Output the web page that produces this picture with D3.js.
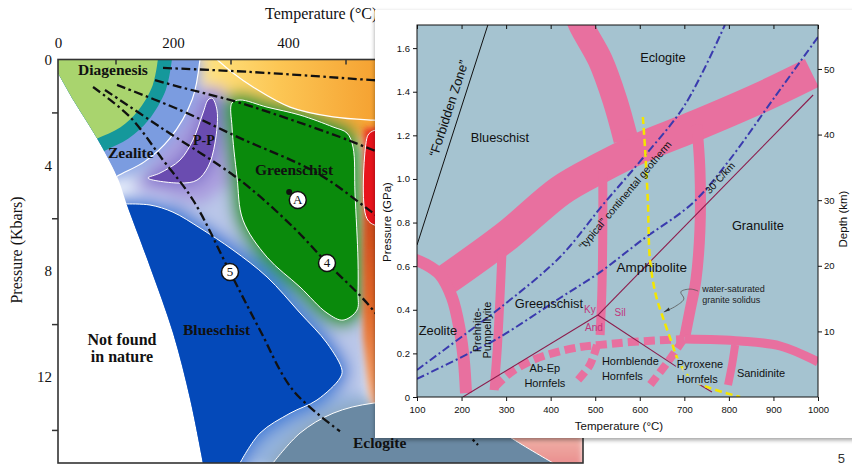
<!DOCTYPE html>
<html>
<head>
<meta charset="utf-8">
<script src="https://cdn.jsdelivr.net/npm/d3@7"></script>
<style>
  body { margin: 0; background: #fff; }
  svg { display: block; }
</style>
</head>
<body>
<svg id="chart" width="852" height="468"></svg>
<script>
// ---------------- Left diagram: facies fields, T (°C) vs P (kbar) ----------------
const tempLabelsL = [0, 200, 400];
const tempMinorL = [100, 300, 500, 700, 900];
const presLabelsL = [0, 4, 8, 12];
const presMinorL = [2, 6, 10, 14];

// lower-temperature limit of natural P-T conditions
const notFoundEdge = [[0,0.51],[29,1.62],[68,2.99],[103,4.44],[120,5.50],[160,7.84],[200,10.34],[230,12.87],[252,15.25]];
// concentric low-grade boundaries
const diagenesisEdge = [[173.7,0],[164.7,0.97],[138.1,1.97],[108.7,2.56],[68.2,2.99],[40,3.3]];
const zeoliteInner = [[198.1,0],[187.5,1.15],[156.7,2.31],[122.6,2.99],[81.6,3.45],[50,3.9]];
const zeoliteOuter = [[246.8,0],[233.4,1.51],[194.1,2.99],[150.6,3.86],[101.9,4.42],[70,4.9]];
const hotEdge = [[276.5,0],[304.3,0.51],[339.1,1.04],[403.5,1.80],[478.3,2.17],[547.8,2.29],[629.6,2.33]];
const ppField = [[267.8,1.46],[276.5,1.91],[273,3.16],[260.9,4.06],[241.7,4.56],[212.2,4.67],[156.5,4.48],[177.4,4.29],[212.2,3.80],[234.8,3.04],[252.2,2.02],[260.9,1.53]];
const greenschistField = [[302.6,1.64],[316.5,1.53],[363.5,1.80],[420.9,2.10],[478.3,2.55],[502.6,2.78],[513,3.31],[516.5,5.05],[521.7,7.58],[521.7,8.83],[520,9.47],[495.7,9.85],[467.8,9.58],[420.9,8.60],[363.5,7.47],[321.7,6.07],[311.3,4.44],[302.6,2.55]];
const blueschistEdge = [[120,5.46],[160,5.50],[200,5.77],[247,6.37],[304.3,7.20],[363.5,8.22],[420.9,9.58],[467.8,10.72],[493.9,11.74],[490.4,12.04],[450.4,12.87],[403.5,13.37],[351.3,14.12],[316.5,15.25]];
const eclogiteEdge = [[373.9,15.25],[420.9,14.12],[478.3,13.37],[547.8,12.99],[647,12.95],[734,13.44],[786,14.27],[861,15.25]];
const redField = [[536,3.1],[541,2.8],[556,2.65],[640,2.7],[640,6.4],[556,6.3],[537,6.0]];
const hotStrip = [[532,2.6],[913,2.6],[913,15.5],[575,15.5],[540,12.6],[530,10.5],[529,7.5]];

// geotherms (dash-dot)
const geothermA = [[182.6,0.32],[333.9,0.47],[547.8,0.78],[700,1.0]];
const geothermB = [[168.7,0.78],[212.2,1.04],[316.5,1.64],[490.4,2.93],[547.8,3.42],[620,4.0]];
const geothermC = [[102.6,0.96],[212.2,1.91],[316.5,2.97],[450.4,4.29],[547.8,5.80],[620,7.0]];
const geotherm4 = [[81.7,1.15],[177.4,2.55],[316.5,4.56],[408.7,6.33],[467.8,7.69],[547.8,9.47],[629.6,12.12],[730.4,14.57]];
const geotherm5 = [[60.9,1.04],[125.2,2.17],[182.6,3.80],[234.8,5.31],[299.1,8.03],[351.3,10.23],[408.7,12.50],[490.4,14.05]];

const markersL = [['A',417,5.31],['4',467.8,7.69],['5',299.1,8.03]];
const dotA = [402,5.01];
const faciesL = [['Diagenesis',34.8,0.59],['Zealite',87,3.72],['P-P',234.8,3.23],['Greenschist',342.6,4.37],['Blueschist',217.4,10.42],['Eclogite',513,14.7]];
const notFoundText = ['Not found','in nature'];
const notFoundAt = [111.3,10.79];

// ---------------- Right diagram: T (°C) vs P (GPa) ----------------
const tempTicksR = [100,200,300,400,500,600,700,800,900,1000];
const presTicksR = [0,0.2,0.4,0.6,0.8,1.0,1.2,1.4,1.6];
const depthTicksR = [10,20,30,40,50];

const forbiddenLine = [[100,0.697],[259,1.706]];
const highPBand = [[165,0.537],[304,0.743],[421,0.945],[511,1.050],[607,1.147],[713,1.234],[870,1.372],[986,1.486]];
const eclogiteBand = [[455,1.775],[468,1.706],[511,1.546],[544,1.362],[569,1.179]];
const granuliteBand = [[728,1.248],[735,1.041],[735,0.766],[726,0.537],[713,0.399],[701,0.275]];
const amphiboliteBand = [[517,1.032],[517,0.766],[515,0.491],[511,0.284]];
const prehniteBand = [[291,0.674],[286,0.445],[280,0.216],[273,0.032]];
const zeoliteBand = [[84,0.638],[118,0.610],[152,0.560],[179,0.454],[196,0.307],[205,0.170],[210,0.018]];
const sanidiniteEdge = [[701,0.266],[825,0.257],[915,0.234],[1000,0.161]];
const sanidiniteBand = [[814,0.239],[807,0.147],[798,0.055]];
const hornfelsDash = [[275,0.046],[309,0.110],[360,0.170],[414,0.206],[466,0.229],[511,0.239],[578,0.252],[701,0.266]];
const hornfelsDashA = [[504,0.239],[488,0.147],[455,0.064]];
const hornfelsDashB = [[697,0.261],[663,0.161],[623,0.055]];
const graniteSolidus = [[607,1.284],[612,1.133],[618,0.904],[623,0.628],[636,0.468],[650,0.376],[672,0.248],[686,0.170],[713,0.087],[746,0.050],[825,0.0]];
const continentalGeotherm = [[100,0.124],[212,0.294],[286,0.408],[421,0.642],[517,0.881],[607,1.096],[701,1.339],[791,1.706]];
const warmGeotherm = [[100,0.083],[196,0.179],[286,0.275],[421,0.454],[511,0.573],[605,0.720],[719,0.890],[798,1.078],[903,1.376],[1000,1.651]];
const andKy = [[203,0],[506,0.376]];
const kySil = [[506,0.376],[989,1.385]];
const andSil = [[506,0.376],[683,0.138]];
const solidusTail = [[728,0.064],[762,0.023]];
const solidusLeader = [[654,0.390],[681,0.417],[699,0.450],[692,0.482],[713,0.495],[731,0.486]];

const faciesR = [['Eclogite',652,1.537],['Blueschist',286,1.170],['Granulite',865,0.766],['Amphibolite',627,0.573],['Greenschist',396,0.408],['Zeolite',147,0.284]];
const polymorphsR = [['Ky',488,0.385],['Sil',556,0.372],['And',497,0.303]];

const fSans = "'Liberation Sans', Arial, sans-serif";
const fSerif = "'Liberation Serif', 'Times New Roman', serif";

const svg = d3.select('#chart');
const defs = svg.append('defs');

// ---------- scales ----------
const xL = d3.scaleLinear().domain([0, 913]).range([58, 583]);
const yL = d3.scaleLinear().domain([0, 15.25]).range([59.5, 463]);
const xR = d3.scaleLinear().domain([100, 1000]).range([417, 818]);
const yR = d3.scaleLinear().domain([0, 1.706]).range([397, 25]);
const dR = d3.scaleLinear().domain([0, 56.7]).range([397, 25]);

const smoothL = d3.line().x(d => xL(d[0])).y(d => yL(d[1])).curve(d3.curveCatmullRom.alpha(0.5));
const closedL = d3.line().x(d => xL(d[0])).y(d => yL(d[1])).curve(d3.curveCatmullRomClosed.alpha(0.5));
const straightL = d3.line().x(d => xL(d[0])).y(d => yL(d[1]));
function regionL(edge, corners) {
  let p = smoothL(edge);
  corners.forEach(c => { p += `L${xL(c[0])},${yL(c[1])}`; });
  return p + 'Z';
}
const smoothR = d3.line().x(d => xR(d[0])).y(d => yR(d[1])).curve(d3.curveCatmullRom.alpha(0.5));
const straightR = d3.line().x(d => xR(d[0])).y(d => yR(d[1]));

// ---------- defs ----------
function blurFilter(id, sd) {
  defs.append('filter').attr('id', id)
    .attr('filterUnits', 'userSpaceOnUse').attr('x', 0).attr('y', 0).attr('width', 852).attr('height', 468)
    .append('feGaussianBlur').attr('stdDeviation', sd);
}
blurFilter('soft', 7);
blurFilter('softer', 3);
defs.append('filter').attr('id', 'shadow')
  .attr('filterUnits', 'userSpaceOnUse').attr('x', 350).attr('y', 0).attr('width', 520).attr('height', 468)
  .append('feDropShadow').attr('dx', 0).attr('dy', 2).attr('stdDeviation', 2)
  .attr('flood-color', '#000').attr('flood-opacity', 0.38);

const gY = defs.append('linearGradient').attr('id', 'warm').attr('gradientUnits', 'userSpaceOnUse')
  .attr('x1', xL(240)).attr('x2', xL(560)).attr('y1', 0).attr('y2', 0);
[[0,'#ffe786'],[0.45,'#fcc654'],[1,'#f5a030']].forEach(s => gY.append('stop').attr('offset', s[0]).attr('stop-color', s[1]));
const gS = defs.append('linearGradient').attr('id', 'strip').attr('gradientUnits', 'userSpaceOnUse')
  .attr('x1', 0).attr('x2', 0).attr('y1', yL(2.5)).attr('y2', yL(15.25));
[[0,'#e8281c'],[0.3,'#cf4d1c'],[0.55,'#e26a2a'],[0.75,'#f0965e'],[0.88,'#f2c2b2'],[1,'#ea9090']].forEach(s => gS.append('stop').attr('offset', s[0]).attr('stop-color', s[1]));

const allowed = regionL(notFoundEdge.slice().reverse(), [[0,0],[913,0],[913,15.25]]);
defs.append('clipPath').attr('id', 'clipL').append('path').attr('d', allowed);
defs.append('clipPath').attr('id', 'clipR').append('rect')
  .attr('x', xR(100)).attr('y', yR(1.706)).attr('width', xR(1000) - xR(100)).attr('height', yR(0) - yR(1.706));

// ================= LEFT DIAGRAM =================
const L = svg.append('g');
const fieldG = L.append('g').attr('clip-path', 'url(#clipL)');

// soft colour wash under the fields
const soft = fieldG.append('g').attr('filter', 'url(#soft)');
function wash(d, fill, spread) {
  soft.append('path').attr('d', d).attr('fill', fill)
    .attr('stroke', spread ? fill : 'none').attr('stroke-width', spread || 0).attr('stroke-linejoin', 'round');
}
wash(straightL([[110,3.2],[330,3.2],[540,8.5],[540,13],[330,15.5],[200,15.5],[110,6]]), '#b9c6e8');
wash(straightL([[100,4.4],[180,4.9],[200,5.5],[120,5.7]]), '#e4ecfb');
wash(straightL([[230,-1],[913,-1],[913,3.2],[530,3.0],[420,2.5],[330,2.0],[280,1.6],[250,0.9]]), 'url(#warm)');
wash(straightL([[200,1.2],[280,1.0],[315,2.0],[310,4.5],[250,5.5],[190,5.2],[130,4.9],[170,3.8],[220,2.4]]), '#ab9fdf');
wash(regionL(zeoliteOuter, [[0,5],[0,0]]), '#8aa6e6', 6);
wash(closedL(ppField), '#8576cc', 8);
wash(closedL(greenschistField), '#3a9b3c', 16);
wash(straightL([[330,15.5],[360,14.2],[420,13.4],[500,12.6],[540,12.7],[560,15.5]]), '#93b2de');
wash(regionL(blueschistEdge, [[316.5,16],[100,16],[100,5.46]]), '#4a82d8', 14);
wash(regionL(eclogiteEdge, [[861,16],[373.9,16]]), '#8ea8bd', 6);

// hot strip along the high-temperature side, lightly softened
fieldG.append('path').attr('filter', 'url(#softer)').attr('fill', 'url(#strip)').attr('d', straightL(hotStrip));

// crisp fields
fieldG.append('path').attr('fill', 'url(#warm)').attr('d', regionL(hotEdge, [[913,2.35],[913,-0.2],[276.5,-0.2]]));
fieldG.append('path').attr('fill', 'none').attr('stroke', '#fff').attr('stroke-width', 1.2).attr('d', smoothL(hotEdge));
fieldG.append('path').attr('fill', '#7b9ce0').attr('d', regionL(zeoliteOuter, [[0,5],[0,0]]));
fieldG.append('path').attr('fill', 'none').attr('stroke', '#fff').attr('stroke-width', 1.2).attr('d', smoothL(zeoliteOuter));
fieldG.append('path').attr('fill', '#15989b').attr('d', regionL(zeoliteInner, [[0,5],[0,0]]));
fieldG.append('path').attr('fill', '#a9d46e').attr('d', regionL(diagenesisEdge, [[0,5],[0,0]]));
fieldG.append('path').attr('fill', '#6a4cb0').attr('stroke', '#fff').attr('stroke-width', 1).attr('d', closedL(ppField));
fieldG.append('path').attr('fill', '#0a8a0c').attr('stroke', '#fff').attr('stroke-width', 1).attr('d', closedL(greenschistField));
fieldG.append('path').attr('fill', '#e8141c').attr('stroke', '#fff').attr('stroke-width', 1).attr('d', closedL(redField));
fieldG.append('path').attr('fill', '#0449b9').attr('stroke', '#fff').attr('stroke-width', 1)
  .attr('d', regionL(blueschistEdge, [[316.5,16],[100,16],[100,5.46]]));
fieldG.append('path').attr('fill', '#6a89a3').attr('stroke', '#fff').attr('stroke-width', 1)
  .attr('d', regionL(eclogiteEdge, [[861,16],[373.9,16]]));

// geotherms
[geothermA, geothermB, geothermC, geotherm4, geotherm5].forEach(g => {
  fieldG.append('path').attr('fill', 'none').attr('stroke', '#111').attr('stroke-width', 2.3)
    .attr('stroke-dasharray', '9,3.5,2.5,3.5').attr('d', smoothL(g));
});

// facies labels
faciesL.forEach(f => {
  L.append('text').attr('x', xL(f[1])).attr('y', yL(f[2]))
    .attr('font-family', fSerif).attr('font-weight', 'bold')
    .attr('font-size', f[0] === 'P-P' ? 14 : 15.5).attr('fill', '#111').text(f[0]);
});
notFoundText.forEach((t, i) => {
  L.append('text').attr('x', xL(notFoundAt[0])).attr('y', yL(notFoundAt[1]) + i * 17)
    .attr('text-anchor', 'middle').attr('font-family', fSerif).attr('font-weight', 'bold')
    .attr('font-size', 16).attr('fill', '#111').text(t);
});

// point A and numbered geotherm tags
L.append('circle').attr('cx', xL(dotA[0])).attr('cy', yL(dotA[1])).attr('r', 3).attr('fill', '#111');
markersL.forEach(m => {
  L.append('circle').attr('cx', xL(m[1])).attr('cy', yL(m[2])).attr('r', 8.5)
    .attr('fill', '#fff').attr('stroke', '#111').attr('stroke-width', 1.5);
  L.append('text').attr('x', xL(m[1])).attr('y', yL(m[2]) + 4.5).attr('text-anchor', 'middle')
    .attr('font-family', fSerif).attr('font-size', 13).attr('fill', '#111').text(m[0]);
});

// frame and axes
L.append('rect').attr('x', xL(0)).attr('y', yL(0)).attr('width', xL(913) - xL(0)).attr('height', yL(15.25) - yL(0))
  .attr('fill', 'none').attr('stroke', '#333').attr('stroke-width', 1.6);
const axT = L.append('g').attr('transform', `translate(0,${yL(0)})`)
  .call(d3.axisTop(xL).tickValues(tempLabelsL).tickSize(0).tickPadding(12));
const axTm = L.append('g').attr('transform', `translate(0,${yL(0)})`)
  .call(d3.axisTop(xL).tickValues(tempMinorL).tickSize(-5).tickFormat(''));
const axY = L.append('g').attr('transform', `translate(${xL(0)},0)`)
  .call(d3.axisLeft(yL).tickValues(presLabelsL).tickSize(0).tickPadding(6));
const axYm = L.append('g').attr('transform', `translate(${xL(0)},0)`)
  .call(d3.axisLeft(yL).tickValues(presMinorL).tickSize(6).tickFormat(''));
[axT, axTm, axY, axYm].forEach(a => {
  a.select('.domain').remove();
  a.selectAll('line').attr('stroke', '#333').attr('stroke-width', 1.5);
  a.selectAll('text').attr('font-family', fSerif).attr('font-size', 15).attr('fill', '#111');
});
L.append('text').attr('x', 265).attr('y', 19).attr('font-family', fSerif).attr('font-size', 16)
  .attr('fill', '#111').text('Temperature (°C)');
L.append('text').attr('transform', 'translate(22,250) rotate(-90)').attr('text-anchor', 'middle')
  .attr('font-family', fSerif).attr('font-size', 16).attr('fill', '#111').text('Pressure (Kbars)');

// ================= RIGHT DIAGRAM (card) =================
const R = svg.append('g');
R.append('rect').attr('x', 375).attr('y', 10).attr('width', 490).attr('height', 428)
  .attr('fill', '#fff').attr('filter', 'url(#shadow)');
R.append('rect').attr('x', xR(100)).attr('y', yR(1.706)).attr('width', xR(1000) - xR(100))
  .attr('height', yR(0) - yR(1.706)).attr('fill', '#a5c3d0');

const P = R.append('g').attr('clip-path', 'url(#clipR)');
const pink = '#e8709f';
P.append('path').attr('d', straightR(forbiddenLine)).attr('stroke', '#111').attr('stroke-width', 1).attr('fill', 'none');

function band(data, w, dash) {
  const p = P.append('path').attr('d', smoothR(data)).attr('fill', 'none')
    .attr('stroke', pink).attr('stroke-width', w).attr('stroke-linecap', 'butt');
  if (dash) p.attr('stroke-dasharray', dash);
  return p;
}
band(highPBand, 31);
band(eclogiteBand, 25);
band(granuliteBand, 11);
band(amphiboliteBand, 9);
band(prehniteBand, 9);
band(zeoliteBand, 12);
band(sanidiniteEdge, 9);
band(sanidiniteBand, 8);
band(hornfelsDash, 8, '11,5');
band(hornfelsDashA, 8, '10,5');
band(hornfelsDashB, 8, '10,5');

const wine = '#8c1c4c';
[andKy, kySil, andSil, solidusTail].forEach(s => {
  P.append('path').attr('d', straightR(s)).attr('stroke', wine).attr('stroke-width', 1.1).attr('fill', 'none');
});
[continentalGeotherm, warmGeotherm].forEach(g => {
  P.append('path').attr('d', smoothR(g)).attr('fill', 'none').attr('stroke', '#3a3aae')
    .attr('stroke-width', 2).attr('stroke-dasharray', '8,3,2,3');
});
P.append('path').attr('d', smoothR(graniteSolidus)).attr('fill', 'none').attr('stroke', '#f4e600')
  .attr('stroke-width', 2.5).attr('stroke-dasharray', '7,4');
P.append('path').attr('d', smoothR(solidusLeader)).attr('fill', 'none').attr('stroke', '#555')
  .attr('stroke-width', 0.8);
P.append('path').attr('fill', '#333')
  .attr('d', `M${xR(654)},${yR(0.390)}l5,-4.5l1,3z`);

// labels inside the plot
faciesR.forEach(f => {
  P.append('text').attr('x', xR(f[1])).attr('y', yR(f[2])).attr('text-anchor', 'middle')
    .attr('font-family', fSans).attr('font-size', f[0] === 'Amphibolite' ? 13.5 : 12.8)
    .attr('fill', '#111').text(f[0]);
});
polymorphsR.forEach(f => {
  P.append('text').attr('x', xR(f[1])).attr('y', yR(f[2])).attr('text-anchor', 'middle')
    .attr('font-family', fSans).attr('font-size', 10).attr('fill', '#c0367c').text(f[0]);
});
function twoLine(a, b, T, Pv, anchor, halo) {
  const t = P.append('text').attr('font-family', fSans).attr('font-size', 11).attr('fill', '#111')
    .attr('text-anchor', anchor);
  if (halo) t.attr('stroke', '#a5c3d0').attr('stroke-width', 3).attr('paint-order', 'stroke');
  t.append('tspan').attr('x', xR(T)).attr('y', yR(Pv)).text(a);
  if (b) t.append('tspan').attr('x', xR(T)).attr('dy', 15).text(b);
}
twoLine('Ab-Ep', 'Hornfels', 387, 0.115, 'middle');
twoLine('Hornblende', 'Hornfels', 515, 0.147, 'start');
twoLine('Pyroxene', 'Hornfels', 683, 0.133, 'start', true);
twoLine('Sanidinite', null, 818, 0.092, 'start');
const ws = P.append('text').attr('font-family', fSans).attr('font-size', 9).attr('fill', '#222');
ws.append('tspan').attr('x', xR(740)).attr('y', yR(0.482)).text('water-saturated');
ws.append('tspan').attr('x', xR(740)).attr('dy', 11.5).text('granite solidus');

P.append('text').attr('transform', `translate(${xR(244)},${yR(0.307)}) rotate(-90)`)
  .attr('text-anchor', 'middle').attr('font-family', fSans).attr('font-size', 11).attr('fill', '#111').text('Prehnite-');
P.append('text').attr('transform', `translate(${xR(266)},${yR(0.307)}) rotate(-90)`)
  .attr('text-anchor', 'middle').attr('font-family', fSans).attr('font-size', 11).attr('fill', '#111').text('Pumpellyite');
P.append('text').attr('transform', `translate(${xR(181)},${yR(1.317)}) rotate(-72)`)
  .attr('text-anchor', 'middle').attr('font-family', fSans).attr('font-size', 13).attr('fill', '#111')
  .text('\u201CForbidden Zone\u201D');
P.append('text').attr('transform', `translate(${xR(573)},${yR(0.915)}) rotate(-50)`)
  .attr('text-anchor', 'middle').attr('font-family', fSans).attr('font-size', 10.5).attr('fill', '#111')
  .text('\u201Ctypical\u201D continental geotherm');
P.append('text').attr('transform', `translate(${xR(786)},${yR(0.994)}) rotate(-48)`)
  .attr('text-anchor', 'middle').attr('font-family', fSans).attr('font-size', 10).attr('fill', '#111')
  .text('30°C/km');

// frame and axes
R.append('rect').attr('x', xR(100)).attr('y', yR(1.706)).attr('width', xR(1000) - xR(100))
  .attr('height', yR(0) - yR(1.706)).attr('fill', 'none').attr('stroke', '#111').attr('stroke-width', 1);
const rB = R.append('g').attr('transform', `translate(0,${yR(0)})`)
  .call(d3.axisBottom(xR).tickValues(tempTicksR).tickSize(4).tickPadding(5).tickFormat(d3.format('d')));
const rT = R.append('g').attr('transform', `translate(0,${yR(1.706)})`)
  .call(d3.axisTop(xR).tickValues(tempTicksR).tickSize(-4).tickFormat(''));
const rL = R.append('g').attr('transform', `translate(${xR(100)},0)`)
  .call(d3.axisLeft(yR).tickValues(presTicksR).tickSize(4).tickPadding(3)
    .tickFormat(d => d === 0 ? '0' : d.toFixed(1)));
const rR = R.append('g').attr('transform', `translate(${xR(1000)},0)`)
  .call(d3.axisRight(dR).tickValues(depthTicksR).tickSize(4).tickPadding(2));
[rB, rT, rL, rR].forEach(a => {
  a.select('.domain').remove();
  a.selectAll('line').attr('stroke', '#111');
  a.selectAll('text').attr('font-family', fSans).attr('font-size', 9.5).attr('fill', '#111');
});
R.append('text').attr('x', 619).attr('y', 430).attr('text-anchor', 'middle')
  .attr('font-family', fSans).attr('font-size', 11.5).attr('fill', '#111').text('Temperature (°C)');
R.append('text').attr('transform', 'translate(391,222) rotate(-90)').attr('text-anchor', 'middle')
  .attr('font-family', fSans).attr('font-size', 11.5).attr('fill', '#111').text('Pressure (GPa)');
R.append('text').attr('transform', 'translate(847,219) rotate(-90)').attr('text-anchor', 'middle')
  .attr('font-family', fSans).attr('font-size', 11.5).attr('fill', '#111').text('Depth (km)');

// page number
svg.append('text').attr('x', 845).attr('y', 463).attr('text-anchor', 'end')
  .attr('font-family', fSans).attr('font-size', 13).attr('fill', '#333').text('5');
</script>
</body>
</html>
